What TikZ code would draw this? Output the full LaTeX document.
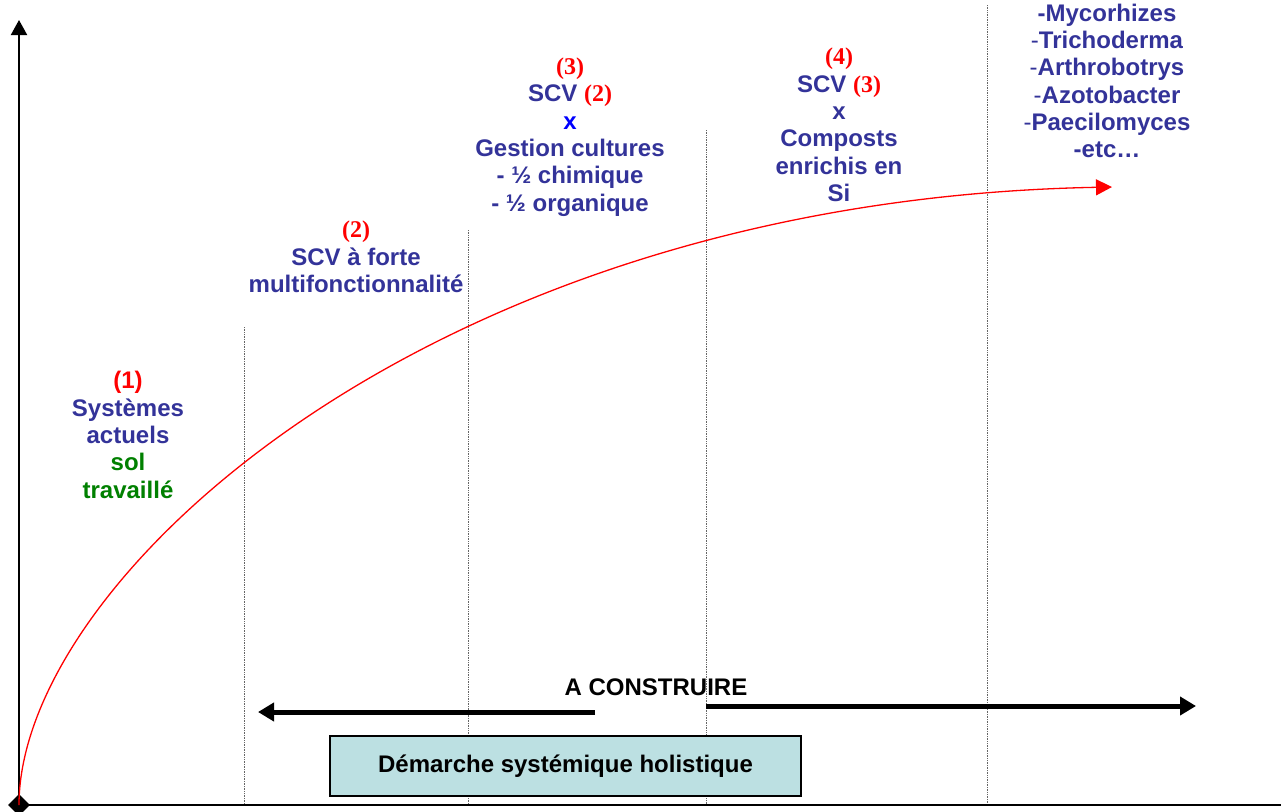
\documentclass[tikz,border=0pt]{standalone}
\usepackage{fontspec}
\setmainfont{Liberation Sans}
\newfontfamily\numfont{Liberation Serif Bold}
\usepackage{xcolor}
\usetikzlibrary{positioning,arrows.meta,shapes.geometric}
\definecolor{TextBlue}{HTML}{333399}
\definecolor{NumRed}{HTML}{FF0000}
\definecolor{SoilGreen}{HTML}{008000}
\definecolor{CrossBlue}{HTML}{0000FF}
\definecolor{BoxCyan}{HTML}{BCE0E2}
\newcommand{\stagenum}[1]{{\numfont\color{NumRed}#1}}
\newcommand{\thindash}{{\mdseries -}}

\begin{document}
\begin{tikzpicture}[x=1pt,y=-1pt,
    every node/.style={font=\fontsize{24}{27.3}\selectfont\bfseries,
                       text=TextBlue, align=center, inner sep=0pt},
    axis/.style={line width=2pt,-{Triangle[length=15pt,width=16pt]}},
    sep/.style={densely dotted,gray!80!black,line width=0.7pt},
    fat/.style={line width=5pt,-{Triangle[length=16pt,width=18pt]}},
    gain/.style={NumRed,line width=1.3pt,-{Triangle[length=16pt,width=16pt]}}]
  \useasboundingbox (0,0) rectangle (1281,811);
  % axes
  \coordinate (o) at (19,805);
  \coordinate (ytop) at (19,20);
  \coordinate (xend) at (1296,805);
  \draw[sep] (244,327) coordinate (s1) -- (s1 |- o);
  \draw[sep] (468,230) coordinate (s2) -- (s2 |- o);
  \draw[sep] (706,130) coordinate (s3) -- (s3 |- o);
  \draw[sep] (987,5) coordinate (s4) -- (s4 |- o);
  \draw[axis] (o) -- (ytop);
  \draw[axis] (o) -- (xend);
  \node[diamond,fill=black,minimum width=22pt,minimum height=22pt] (orig) at (o) {};
  % curve
  \coordinate (goal) at (1112,187);
  \draw[gain] (o) .. controls (19,580) and (430,200) .. (goal);
  % stages
  \node (st1) at (128,435)
    {\textcolor{NumRed}{(1)}\\Systèmes\\actuels\\
     \textcolor{SoilGreen}{sol}\\\textcolor{SoilGreen}{travaillé}};
  \node (st2) at (356,257)
    {\stagenum{(2)}\\SCV à forte\\multifonctionnalité};
  \node (st3) at (570,137)
    {\stagenum{(3)}\\SCV \stagenum{(2)}\\\textcolor{CrossBlue}{x}\\
     Gestion cultures\\- ½ chimique\\- ½ organique};
  \node (st4) at (839,125)
    {\stagenum{(4)}\\SCV \stagenum{(3)}\\x\\Composts\\enrichis en\\Si};
  \node (st5) at (1107,81)
    {-Mycorhizes\\\thindash Trichoderma\\\thindash Arthrobotrys\\
     \thindash Azotobacter\\\thindash Paecilomyces\\-etc…};
  % bottom
  \node[text=black] (todo) at (656,687) {A CONSTRUIRE};
  \coordinate (la) at (595,712);
  \coordinate (lb) at (258,712);
  \coordinate (ra) at (706,706);
  \coordinate (rb) at (1196,706);
  \draw[fat] (la) -- (lb);
  \draw[fat] (ra) -- (rb);
  \node[draw=black,fill=BoxCyan,line width=1.5pt,text=black,
        minimum width=471pt,minimum height=60pt] (holist) at (565.5,766)
    {Démarche systémique holistique};
\end{tikzpicture}
\end{document}
